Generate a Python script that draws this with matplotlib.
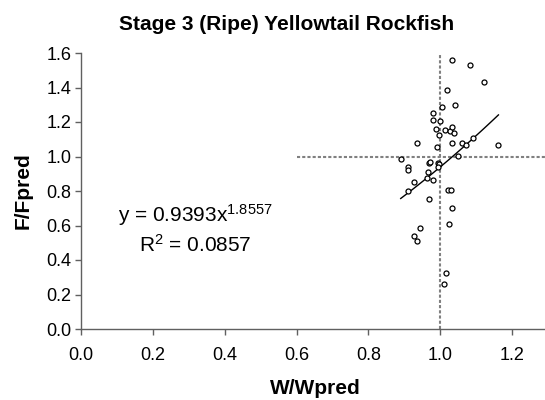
import numpy as np
import matplotlib
matplotlib.use("Agg")
import matplotlib.pyplot as plt

plt.rcParams["font.family"] = ["Liberation Sans", "DejaVu Sans"]
plt.rcParams["mathtext.fontset"] = "custom"
plt.rcParams["mathtext.rm"] = "Liberation Sans"
plt.rcParams["mathtext.it"] = "Liberation Sans"

# W/Wpred and F/Fpred for stage 3 (ripe) fish
w_ratio = [1.032, 1.083, 1.123, 1.018, 1.006, 1.040, 0.981, 0.981, 1.000, 0.989,
           1.014, 1.028, 1.032, 1.037, 0.996, 0.934, 1.032, 1.061, 1.072, 1.091,
           1.162, 0.992, 0.890, 1.050, 0.909, 0.909, 0.968, 0.972, 0.993, 0.996,
           0.993, 0.967, 0.963, 0.981, 0.927, 0.909, 0.970, 1.021, 1.029, 1.032,
           1.025, 0.945, 0.927, 0.934, 1.015, 1.010]
f_ratio = [1.561, 1.532, 1.432, 1.387, 1.289, 1.297, 1.252, 1.214, 1.206, 1.160,
           1.154, 1.146, 1.169, 1.139, 1.123, 1.079, 1.079, 1.079, 1.069, 1.108,
           1.069, 1.054, 0.988, 1.004, 0.942, 0.919, 0.965, 0.971, 0.962, 0.958,
           0.942, 0.911, 0.875, 0.865, 0.852, 0.798, 0.751, 0.807, 0.807, 0.699,
           0.610, 0.586, 0.542, 0.511, 0.322, 0.262]

# power trendline y = a * x^b
coef_a = 0.9393
coef_b = 1.8557
r_squared = 0.0857

x_ticks = [0.0, 0.2, 0.4, 0.6, 0.8, 1.0, 1.2]
y_ticks = [0.0, 0.2, 0.4, 0.6, 0.8, 1.0, 1.2, 1.4, 1.6]

fig = plt.figure(figsize=(5.45, 4.0), dpi=100)
ax = fig.add_axes([81 / 545, 71 / 400, 467 / 545, 276 / 400])

ax.set_xlim(0, 1.3)
ax.set_ylim(0, 1.6)

dash = (0, (1.5, 1.0))
ax.plot([1.0, 1.0], [0.0, 1.6], color="#808080", lw=1.5, linestyle=dash, zorder=1)
ax.plot([0.6, 1.3], [1.0, 1.0], color="#808080", lw=1.5, linestyle=dash, zorder=1)

ax.plot(w_ratio, f_ratio, linestyle="none", marker="o", markersize=3.6,
        markerfacecolor="white", markeredgecolor="black", markeredgewidth=0.9,
        zorder=3)

xs = np.linspace(min(w_ratio), max(w_ratio), 50)
ax.plot(xs, coef_a * xs ** coef_b, color="black", lw=1.0, zorder=2)

ax.text(0.318, 0.662, r"y = %.4fx$^{%.4f}$" % (coef_a, coef_b), ha="center",
        va="center", fontsize=15)
ax.text(0.318, 0.487, r"R$^2$ = %.4f" % r_squared, ha="center", va="center",
        fontsize=15)

ax.set_xticks(x_ticks)
ax.set_yticks(y_ticks)
ax.set_xticklabels(["%.1f" % v for v in x_ticks])
ax.set_yticklabels(["%.1f" % v for v in y_ticks])
ax.tick_params(labelsize=13, color="#606060", length=4, width=1)
ax.tick_params(axis="x", pad=9)
ax.tick_params(axis="y", pad=3)

for side in ["top", "right"]:
    ax.spines[side].set_visible(False)
for side in ["left", "bottom"]:
    ax.spines[side].set_color("#606060")
    ax.spines[side].set_linewidth(1.0)

fig.text(287 / 545, 1 - 24 / 400, "Stage 3 (Ripe) Yellowtail Rockfish",
         ha="center", va="center", fontsize=15, fontweight="bold")
fig.text(315 / 545, 1 - 388 / 400, "W/Wpred", ha="center", va="center",
         fontsize=15, fontweight="bold")
fig.text(23 / 545, 1 - 191 / 400, "F/Fpred", ha="center", va="center",
         rotation=90, fontsize=15, fontweight="bold")

fig.savefig("out.png", dpi=100)
